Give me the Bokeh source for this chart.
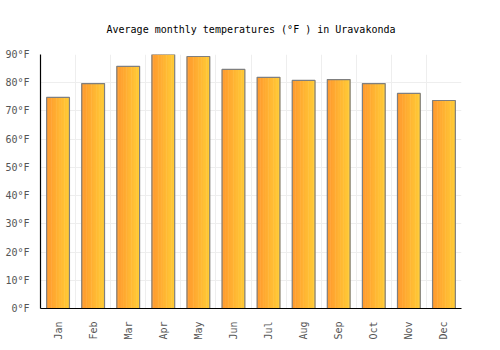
import math
from bokeh.plotting import figure
from bokeh.models import ColumnDataSource, FixedTicker, PrintfTickFormatter, Range1d
from bokeh.transform import dodge
from bokeh.embed import file_html
from bokeh.resources import INLINE

months = ["Jan", "Feb", "Mar", "Apr", "May", "Jun", "Jul", "Aug", "Sep", "Oct", "Nov", "Dec"]
temps_f = [74.8, 79.7, 85.8, 90.0, 89.3, 84.7, 81.9, 80.8, 81.1, 79.7, 76.2, 73.7]
y_ticks = [0, 10, 20, 30, 40, 50, 60, 70, 80, 90]

xs = list(range(len(months)))
src = ColumnDataSource(data=dict(x=xs, top=temps_f))

p = figure(width=500, height=350, output_backend="svg", toolbar_location=None,
           x_range=Range1d(-0.5, 11.5), y_range=Range1d(0, 90),
           min_border_left=40, min_border_right=39, min_border_top=54, min_border_bottom=42)
p.background_fill_color = "white"
p.border_fill_color = "white"
p.outline_line_color = None

p.title.text = "Average monthly temperatures (°F ) in Uravakonda"
p.title.align = "center"
p.title.text_font = "DejaVu Sans Mono"
p.title.text_font_size = "10px"
p.title.text_font_style = "normal"
p.title.text_color = "#000000"
p.title.standoff = 40

# gradient bars via strips
bar_w = 0.65
n = 14
c0 = (0xFF, 0x9A, 0x2E)
c1 = (0xFF, 0xCA, 0x36)
sw = bar_w / n
for k in range(n):
    t = k / (n - 1)
    col = "#%02x%02x%02x" % tuple(int(round(a + (b - a) * t)) for a, b in zip(c0, c1))
    off = -bar_w / 2 + sw * (k + 0.5)
    p.vbar(x=dodge("x", off), top="top", bottom=0, width=sw * 1.3, source=src,
           fill_color=col, line_color=None)
p.vbar(x="x", top="top", bottom=0, width=bar_w, source=src,
       fill_color=None, line_color="#7f7f7f", line_width=1.2)

p.xaxis.ticker = FixedTicker(ticks=xs)
p.xaxis.major_label_overrides = {i: m for i, m in enumerate(months)}
p.xaxis.major_label_orientation = math.pi / 2
p.yaxis.ticker = FixedTicker(ticks=y_ticks)
p.yaxis.formatter = PrintfTickFormatter(format="%d°F")

for ax in (p.xaxis, p.yaxis):
    ax.axis_line_color = "#000000"
    ax.axis_line_width = 1.2
    ax.major_tick_line_color = None
    ax.minor_tick_line_color = None
    ax.major_label_text_font = "DejaVu Sans Mono"
    ax.major_label_text_font_size = "10px"
    ax.major_label_text_color = "#555555"
p.yaxis.major_label_standoff = 5
p.xaxis.major_label_standoff = 7

p.xgrid.ticker = FixedTicker(ticks=[i + 0.5 for i in xs])
p.xgrid.grid_line_color = "#eeeeee"
p.ygrid.grid_line_color = "#eeeeee"
p.ygrid.ticker = FixedTicker(ticks=y_ticks)

open("out.html", "w").write(file_html(p, INLINE))
